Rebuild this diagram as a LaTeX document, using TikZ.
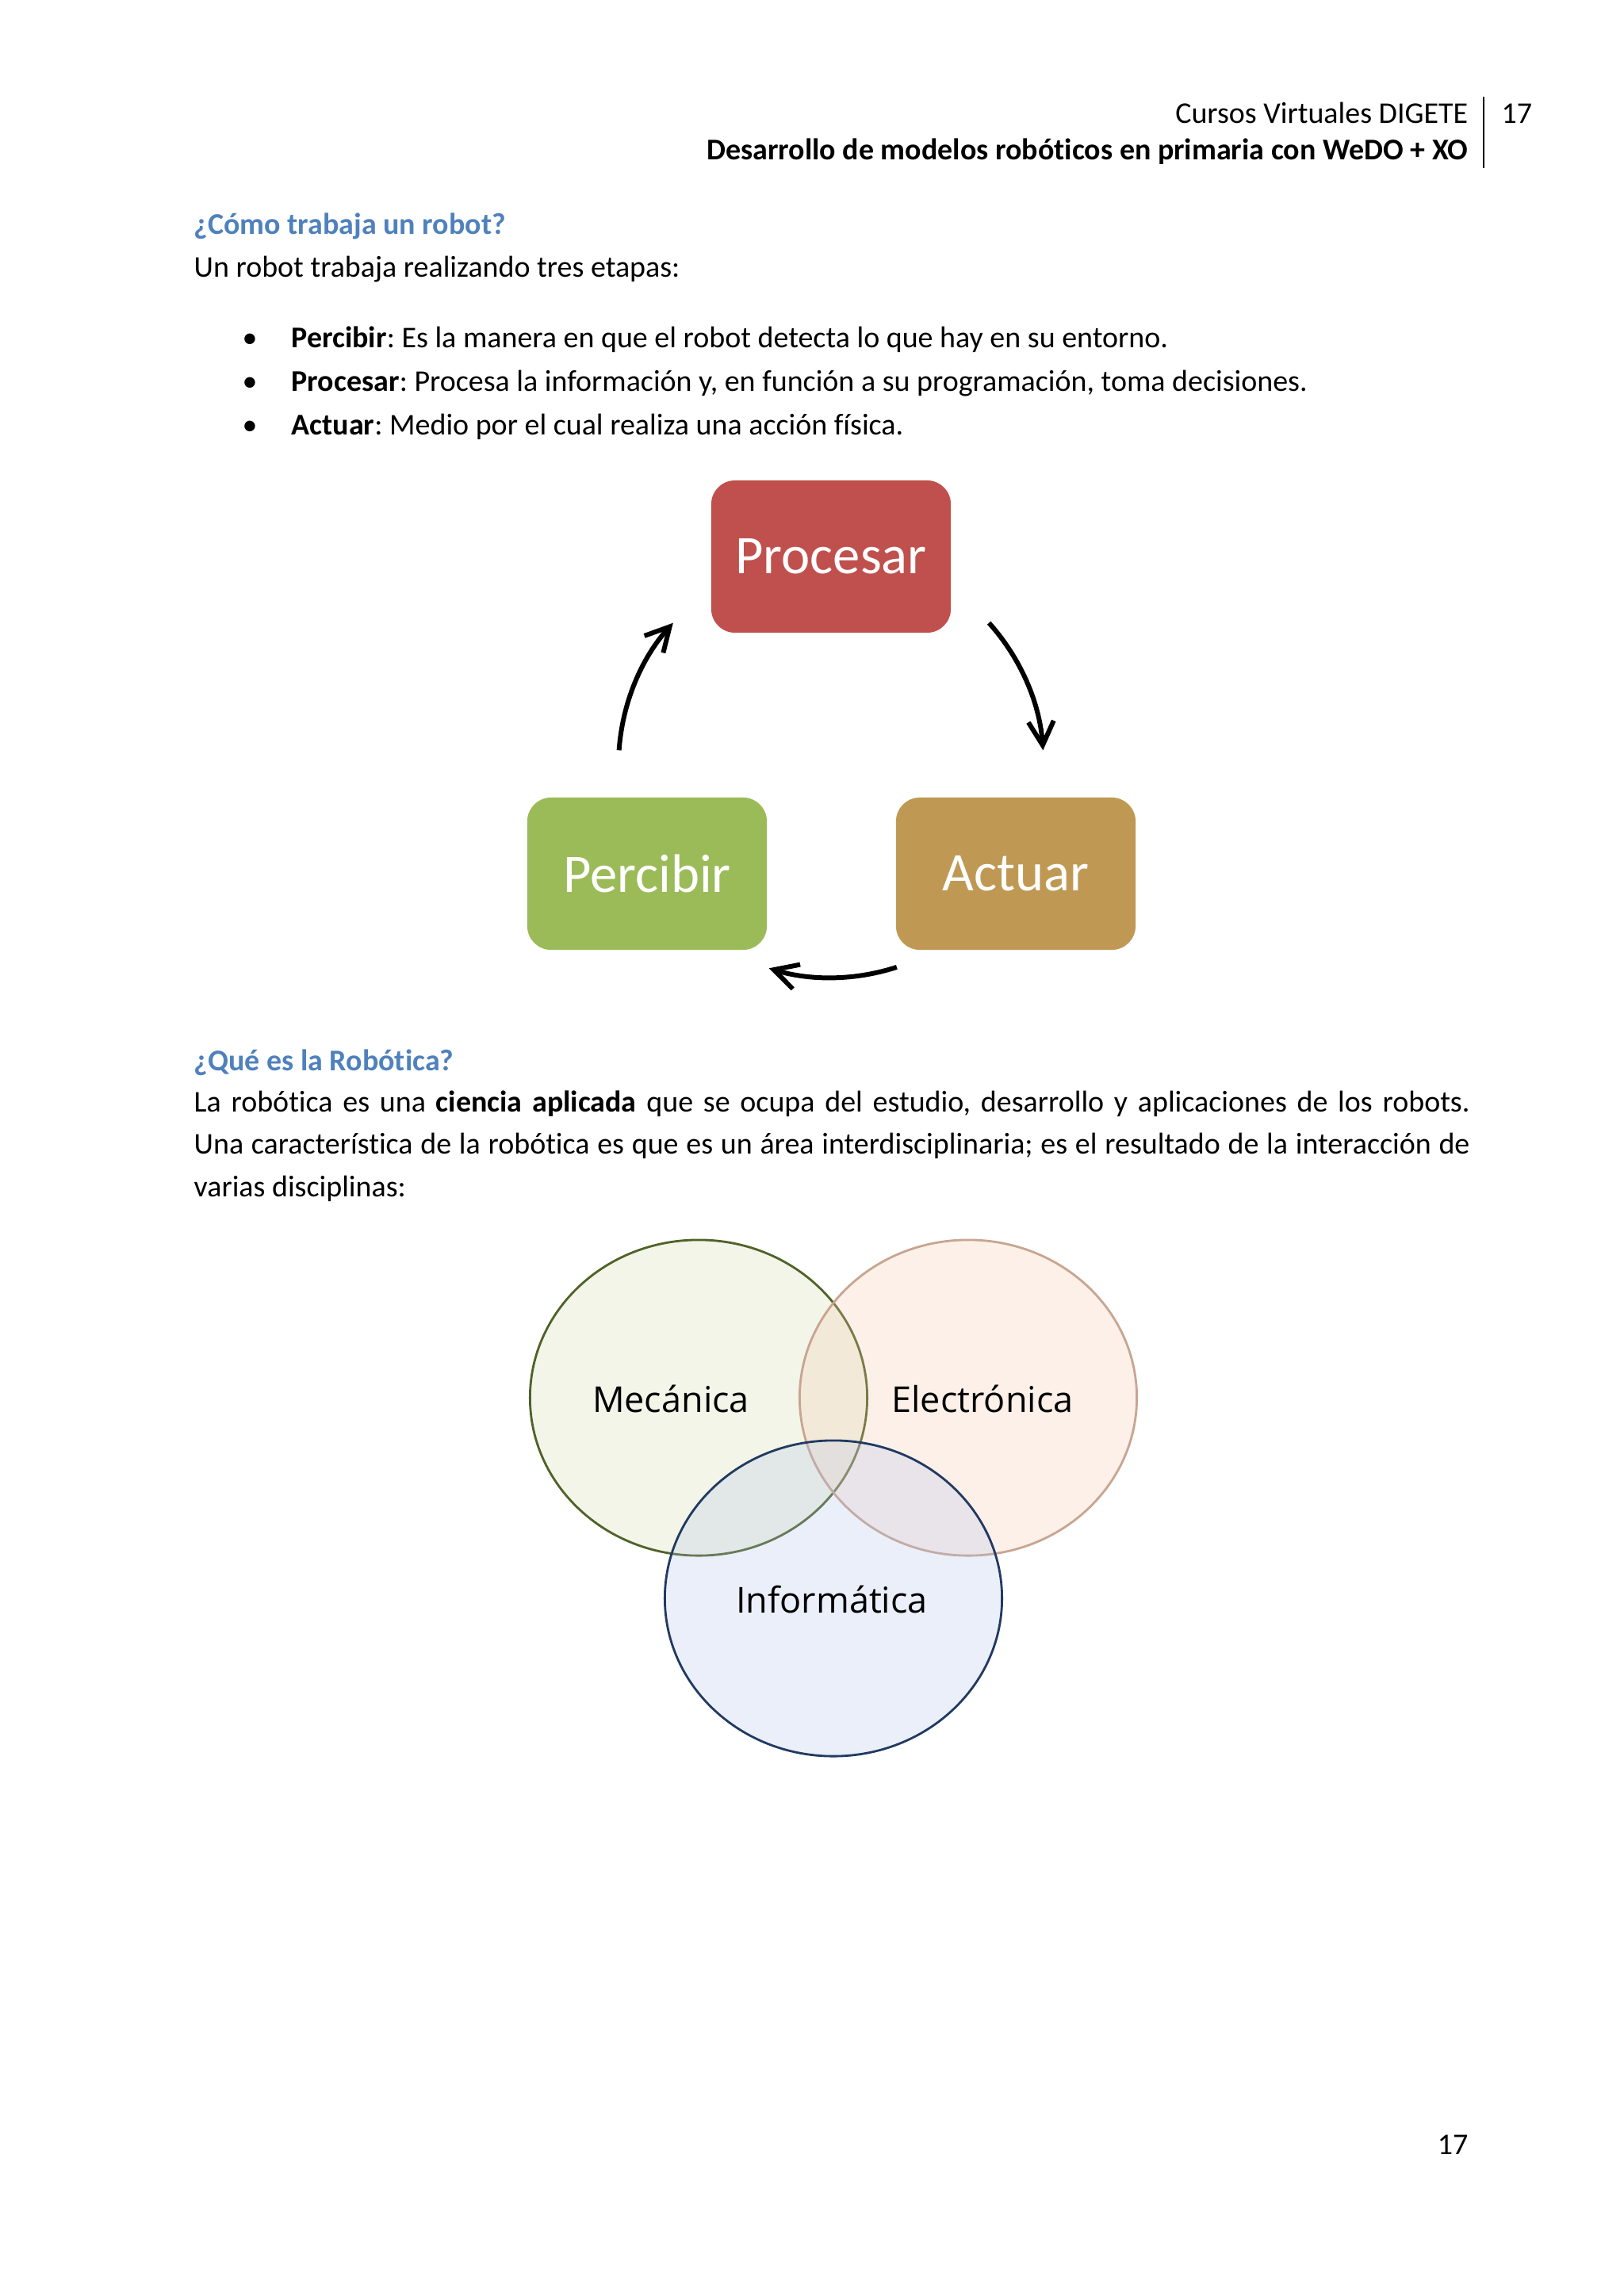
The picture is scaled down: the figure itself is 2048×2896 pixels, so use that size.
\documentclass[tikz,border=0pt]{standalone}
\usepackage{fontspec}
\setmainfont{Carlito}[Ligatures=NoCommon]
\newfontfamily\vennfont{Open Sans}
\usepackage{tikz}
\usetikzlibrary{arrows.meta, positioning, shapes.geometric}
\definecolor{headblue}{RGB}{79,129,189}
\definecolor{procred}{RGB}{192,80,77}
\definecolor{percgreen}{RGB}{155,187,89}
\definecolor{actgold}{RGB}{191,153,84}
\definecolor{mecline}{RGB}{79,98,40}
\definecolor{mecfill}{RGB}{207,219,167}
\definecolor{elecline}{RGB}{200,165,145}
\definecolor{elecfill}{RGB}{247,199,171}
\definecolor{infoline}{RGB}{33,58,98}
\definecolor{infofill}{RGB}{179,195,235}
\newcommand{\bodysize}{\fontsize{10.8pt}{13pt}\selectfont}
\newcommand{\vennsize}{\vennfont\fontsize{12.8pt}{15pt}\selectfont}
\tikzset{
  bodytext/.style={anchor=base west, inner sep=0pt, font=\bodysize},
  righttext/.style={anchor=base east, inner sep=0pt, font=\bodysize},
  headtext/.style={bodytext, font=\bodysize\bfseries, text=headblue},
  stagebox/.style={rectangle, rounded corners=0.3cm, minimum width=3.02cm,
    minimum height=1.92cm, text=white, font=\fontsize{19.5pt}{22pt}\selectfont},
  cyclearrow/.style={-{Straight Barb[length=0.3cm, width=0.32cm]}, line width=1.7pt},
  venn/.style={ellipse, minimum width=4.25cm, minimum height=3.98cm,
    line width=0.8pt, fill opacity=0.25, text opacity=1},
  vennlabel/.style={font=\vennsize},
}
\begin{document}
\frenchspacing
\begin{tikzpicture}[x=0.01cm, y=0.01cm]
  \useasboundingbox[fill=white] (0,0) rectangle (2048,-2896);
  % header
  \node[righttext] (course) at (1852,-155) {Cursos Virtuales DIGETE};
  \node[righttext, font=\bodysize\bfseries] (title) at (1852,-201)
    {Desarrollo de modelos robóticos en primaria con WeDO + XO};
  \node[bodytext] (pagetop) at (1893,-155) {17};
  \coordinate (ruletop) at (1871,-122);
  \coordinate (rulebot) at (1871,-212);
  \draw[line width=0.6pt] (ruletop) -- (rulebot);

  % first section
  \node[headtext] (howhead) at (244,-295) {¿Cómo trabaja un robot?};
  \node[bodytext] (howintro) at (244,-349) {Un robot trabaja realizando tres etapas:};
  \node[bodytext] (dot1) at (305,-438) {•};
  \node[bodytext] (item1) at (367,-438) {\textbf{Percibir}: Es la manera en que el robot detecta lo que hay en su entorno.};
  \node[bodytext] (dot2) at (305,-493) {•};
  \node[bodytext] (item2) at (367,-493) {\textbf{Procesar}: Procesa la información y, en función a su programación, toma decisiones.};
  \node[bodytext] (dot3) at (305,-548) {•};
  \node[bodytext] (item3) at (367,-548) {\textbf{Actuar}: Medio por el cual realiza una acción física.};

  % cycle
  \node[stagebox, fill=procred] (procesar) at (1048,-702) {Procesar};
  \node[stagebox, fill=percgreen] (percibir) at (816,-1102) {Percibir};
  \node[stagebox, fill=actgold] (actuar) at (1281,-1102) {Actuar};
  \coordinate (hub) at (1048,-965);
  \draw[cyclearrow] ([shift={(176:268)}]hub) arc[start angle=176, end angle=138, radius=268];
  \draw[cyclearrow] ([shift={(42:268)}]hub) arc[start angle=42, end angle=4, radius=268];
  \draw[cyclearrow] ([shift={(-72:268)}]hub) arc[start angle=-72, end angle=-107, radius=268];

  % second section
  \node[headtext] (whathead) at (244,-1350) {¿Qué es la Robótica?};
  \node[bodytext] (para1) at (244,-1402) {\makebox[16.08cm][s]{La robótica es una \textbf{ciencia aplicada} que se ocupa del estudio, desarrollo y aplicaciones de los robots.}};
  \node[bodytext] (para2) at (244,-1455) {\makebox[16.08cm][s]{Una característica de la robótica es que es un área interdisciplinaria; es el resultado de la interacción de}};
  \node[bodytext] (para3) at (244,-1509) {varias disciplinas:};

  % venn
  \node[venn, draw=mecline, fill=mecfill] (mec) at (881,-1763) {};
  \node[venn, draw=elecline, fill=elecfill] (elec) at (1221,-1763) {};
  \node[venn, draw=infoline, fill=infofill] (info) at (1051,-2016) {};
  \node[vennlabel] (meclabel) at (846,-1764) {Mecánica};
  \node[vennlabel] (eleclabel) at (1239,-1764) {Electrónica};
  \node[vennlabel] (infolabel) at (1049,-2017) {Informática};

  % footer
  \node[righttext] (pagebot) at (1852,-2717) {17};
\end{tikzpicture}
\end{document}
